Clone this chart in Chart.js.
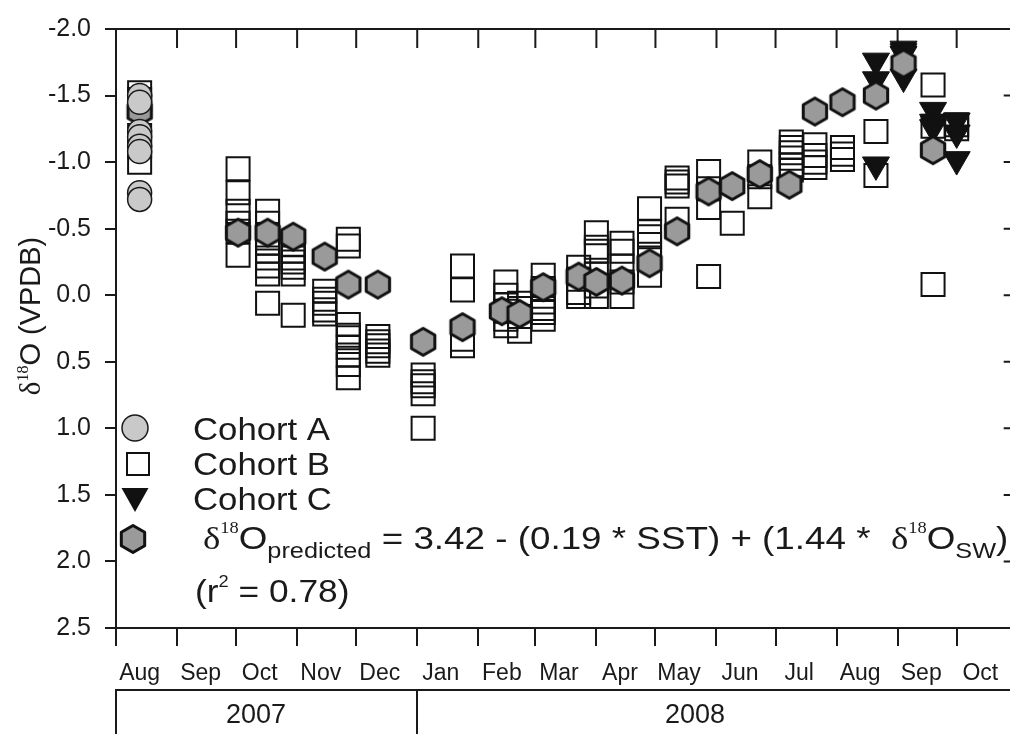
<!DOCTYPE html>
<html lang="en">
  <head>
    <meta charset="utf-8" />
    <title>δ18O cohorts 2007–2008</title>
    <script src="https://cdn.jsdelivr.net/npm/chart.js"></script>
    <style>
      html,
      body {
        margin: 0;
        padding: 0;
        background: #fff;
        overflow: hidden;
      }
      #d18oChart {
        position: absolute;
        left: 0;
        top: 0;
      }
    </style>
  </head>
  <body>
    <canvas id="d18oChart" width="1036" height="734"></canvas>
    <script>
      // x = days since 1 Aug 2007, y = δ18O (VPDB)
      const monthStarts = [0, 31, 61, 92, 122, 153, 184, 213, 244, 274, 305, 335, 366, 397, 427, 458];
      const monthLabels = ["Aug", "Sep", "Oct", "Nov", "Dec", "Jan", "Feb", "Mar", "Apr", "May", "Jun", "Jul", "Aug", "Sep", "Oct"];
      const yearLabels = ["2007", "2008"];
      const yearStarts = [0, 153];

      const cohortA = [
        [12, -1.5], [12, -1.45], [12, -1.23], [12, -1.19], [12, -1.12], [12, -1.08], [12, -0.77], [12, -0.72],
      ];

      const cohortB = [
        [12, -1.52], [12, -1.47], [12, -1.42], [12, -1.2], [12, -1.12], [12, -1.0],
        [62, -0.95], [62, -0.77], [62, -0.63], [62, -0.54], [62, -0.48], [62, -0.3],
        [77, -0.63], [77, -0.54], [77, -0.43], [77, -0.39], [77, -0.33], [77, -0.28], [77, -0.22], [77, -0.16], [77, 0.06],
        [90, -0.38], [90, -0.33], [90, -0.28], [90, -0.25], [90, -0.21], [90, -0.16], [90, 0.15],
        [106, -0.03], [106, 0.03], [106, 0.06], [106, 0.11], [106, 0.14],
        [118, -0.42], [118, -0.37], [118, 0.22], [118, 0.3], [118, 0.32], [118, 0.39], [118, 0.45], [118, 0.52], [118, 0.62],
        [133, 0.31], [133, 0.35], [133, 0.38], [133, 0.42], [133, 0.45],
        [156, 0.6], [156, 0.65], [156, 0.68], [156, 0.74], [156, 1.0],
        [176, -0.22], [176, -0.04], [176, 0.33], [176, 0.38],
        [198, -0.1], [198, 0.0], [198, 0.07], [198, 0.12], [198, 0.18], [198, 0.23],
        [205, 0.06], [205, 0.1], [205, 0.16], [205, 0.27],
        [217, -0.15], [217, -0.05], [217, 0.05], [217, 0.1], [217, 0.13], [217, 0.18],
        [235, -0.21], [235, -0.12], [235, -0.02], [235, 0.01],
        [244, -0.47], [244, -0.36], [244, -0.33], [244, -0.16], [244, -0.07], [244, 0.01],
        [257, -0.39], [257, -0.33], [257, -0.22], [257, -0.1], [257, 0.01],
        [271, -0.65], [271, -0.48], [271, -0.44], [271, -0.38], [271, -0.28], [271, -0.15],
        [285, -0.88], [285, -0.85], [285, -0.82], [285, -0.57],
        [301, -0.93], [301, -0.8], [301, -0.66], [301, -0.14],
        [313, -0.54],
        [327, -1.0], [327, -0.89], [327, -0.74],
        [343, -1.15], [343, -1.11], [343, -1.07], [343, -1.03], [343, -0.98], [343, -0.94],
        [355, -1.13], [355, -1.05], [355, -1.0], [355, -0.96],
        [369, -1.11], [369, -1.06], [369, -1.02],
        [386, -1.23], [386, -0.9],
        [415, -1.58], [415, -1.27], [415, -0.08],
        [427, -1.28], [427, -1.25],
      ];

      const cohortC = [
        [386, -1.76], [386, -1.62], [386, -0.98],
        [400, -1.85], [400, -1.83], [400, -1.81], [400, -1.64],
        [415, -1.39], [415, -1.3], [415, -1.26],
        [427, -1.31], [427, -1.22], [427, -1.02],
      ];

      const predicted = [
        [12, -1.38], [62, -0.47], [77, -0.47], [90, -0.44], [106, -0.29], [118, -0.08], [133, -0.08],
        [156, 0.35], [176, 0.24], [196, 0.12], [205, 0.14], [217, -0.06], [235, -0.14], [244, -0.1],
        [257, -0.11], [271, -0.24], [285, -0.48], [301, -0.78], [313, -0.82], [327, -0.91], [342, -0.83],
        [355, -1.38], [369, -1.45], [386, -1.5], [400, -1.74], [415, -1.09],
      ];

      const sans = '"Liberation Sans", Arial, sans-serif';
      const serif = '"Liberation Serif", "Times New Roman", serif';
      const ink = "#1a1a1a";

      const toXY = (arr) => arr.map((p) => ({ x: p[0], y: p[1] }));

      function hexPath(ctx, cx, cy, r) {
        ctx.beginPath();
        for (let k = 0; k < 6; k++) {
          const a = -Math.PI / 2 + (k * Math.PI) / 3;
          const px = cx + r * Math.cos(a);
          const py = cy + r * Math.sin(a);
          k === 0 ? ctx.moveTo(px, py) : ctx.lineTo(px, py);
        }
        ctx.closePath();
      }

      // hexagon marker used as pointStyle
      const hexImg = document.createElement("canvas");
      hexImg.width = 34;
      hexImg.height = 34;
      (function () {
        const c = hexImg.getContext("2d");
        hexPath(c, 17, 17, 13.5);
        c.fillStyle = "#9a9a9a";
        c.fill();
        c.lineWidth = 3;
        c.lineJoin = "round";
        c.strokeStyle = "#111";
        c.stroke();
      })();

      // draws a list of text runs, stretched horizontally by sx
      function drawRuns(ctx, runs, x, y, sx) {
        ctx.save();
        ctx.translate(x, y);
        ctx.scale(sx, 1);
        ctx.fillStyle = ink;
        ctx.textBaseline = "alphabetic";
        ctx.textAlign = "left";
        let cx = 0;
        runs.forEach((r) => {
          ctx.font = r.size + "px " + (r.serif ? serif : sans);
          ctx.fillText(r.t, cx, r.dy || 0);
          cx += ctx.measureText(r.t).width;
        });
        ctx.restore();
      }

      function runsWidth(ctx, runs) {
        let w = 0;
        runs.forEach((r) => {
          ctx.font = r.size + "px " + (r.serif ? serif : sans);
          w += ctx.measureText(r.t).width;
        });
        return w;
      }

      // inward tick marks on the top and right frame
      const innerTicks = {
        id: "innerTicks",
        beforeDatasetsDraw(chart) {
          const { ctx, chartArea, scales } = chart;
          ctx.save();
          ctx.strokeStyle = ink;
          ctx.lineWidth = 2;
          ctx.beginPath();
          monthStarts.forEach((v) => {
            const px = scales.x.getPixelForValue(v);
            ctx.moveTo(px, chartArea.top);
            ctx.lineTo(px, chartArea.top + 19);
          });
          scales.y.ticks.forEach((t) => {
            const py = scales.y.getPixelForValue(t.value);
            ctx.moveTo(chartArea.right - 14, py);
            ctx.lineTo(chartArea.right, py);
          });
          ctx.stroke();
          ctx.restore();
        },
      };

      const annotations = {
        id: "annotations",
        afterDraw(chart) {
          const { ctx, chartArea, scales } = chart;

          // y title
          const titleRuns = [
            { t: "δ", size: 29, serif: true },
            { t: "18", size: 16, serif: true, dy: -12 },
            { t: "O (VPDB)", size: 29 },
          ];
          const tw = runsWidth(ctx, titleRuns);
          ctx.save();
          ctx.translate(40, 316);
          ctx.rotate(-Math.PI / 2);
          drawRuns(ctx, titleRuns, -tw / 2, 0, 1);
          ctx.restore();

          // year row
          const rowTop = 690;
          ctx.save();
          ctx.strokeStyle = ink;
          ctx.lineWidth = 2;
          ctx.beginPath();
          ctx.moveTo(chartArea.left - 1, rowTop);
          ctx.lineTo(chart.width, rowTop);
          yearStarts.forEach((v) => {
            const px = Math.round(scales.x.getPixelForValue(v));
            ctx.moveTo(px, rowTop);
            ctx.lineTo(px, chart.height);
          });
          ctx.stroke();
          ctx.fillStyle = ink;
          ctx.font = "27px " + sans;
          ctx.textAlign = "center";
          ctx.textBaseline = "middle";
          const yearCenters = [256, 695];
          yearLabels.forEach((t, i) => ctx.fillText(t, yearCenters[i], 716));
          ctx.restore();

          // legend symbols
          ctx.save();
          ctx.beginPath();
          ctx.arc(135, 428, 13, 0, Math.PI * 2);
          ctx.fillStyle = "#c9c9c9";
          ctx.fill();
          ctx.lineWidth = 1.5;
          ctx.strokeStyle = ink;
          ctx.stroke();

          ctx.lineWidth = 2;
          ctx.strokeStyle = "#111";
          ctx.strokeRect(127, 453, 22, 22);

          ctx.beginPath();
          ctx.moveTo(121.5, 488);
          ctx.lineTo(148.5, 488);
          ctx.lineTo(135, 512);
          ctx.closePath();
          ctx.fillStyle = "#111";
          ctx.fill();

          ctx.drawImage(hexImg, 133 - 17, 539 - 17);
          ctx.restore();

          const sx = 1.12;
          drawRuns(ctx, [{ t: "Cohort A", size: 31 }], 193, 440, sx);
          drawRuns(ctx, [{ t: "Cohort B", size: 31 }], 193, 475, sx);
          drawRuns(ctx, [{ t: "Cohort C", size: 31 }], 193, 510, sx);

          drawRuns(
            ctx,
            [
              { t: "δ", size: 32, serif: true },
              { t: "18", size: 16, serif: true, dy: -16 },
              { t: "O", size: 32 },
              { t: "predicted", size: 22, dy: 9 },
              { t: " = 3.42 - (0.19 * SST) + (1.44 *  ", size: 32 },
              { t: "δ", size: 32, serif: true },
              { t: "18", size: 16, serif: true, dy: -16 },
              { t: "O", size: 32 },
              { t: "SW", size: 22, dy: 9 },
              { t: ")", size: 32 },
            ],
            203,
            549,
            1.15
          );

          drawRuns(
            ctx,
            [
              { t: "(r", size: 31 },
              { t: "2", size: 16, dy: -15 },
              { t: " = 0.78)", size: 31 },
            ],
            195,
            602,
            1.14
          );
        },
      };

      Chart.defaults.font.family = sans;
      Chart.defaults.color = ink;

      new Chart(document.getElementById("d18oChart"), {
        type: "scatter",
        data: {
          datasets: [
            {
              label: "Cohort A",
              data: toXY(cohortA),
              pointStyle: "circle",
              pointRadius: 12,
              backgroundColor: "#c9c9c9",
              borderColor: ink,
              borderWidth: 1.5,
            },
            {
              label: "δ18O predicted",
              data: toXY(predicted),
              pointStyle: hexImg,
              pointRadius: 14,
            },
            {
              label: "Cohort C",
              data: toXY(cohortC),
              pointStyle: "triangle",
              pointRotation: 180,
              pointRadius: 15.6,
              backgroundColor: "#111",
              borderColor: "#111",
              borderWidth: 1,
            },
            {
              label: "Cohort B",
              data: toXY(cohortB),
              pointStyle: "rect",
              pointRadius: 16.3,
              backgroundColor: "rgba(255,255,255,0)",
              borderColor: "#111",
              borderWidth: 2,
            },
          ],
        },
        options: {
          responsive: false,
          animation: false,
          events: [],
          layout: { padding: { top: 23, right: 3, left: 0, bottom: 0 } },
          plugins: { legend: { display: false }, tooltip: { enabled: false } },
          scales: {
            x: {
              type: "linear",
              position: "bottom",
              min: 0,
              max: 458,
              afterBuildTicks: (s) => {
                s.ticks = monthStarts.map((v) => ({ value: v }));
              },
              ticks: { display: false },
              grid: { drawOnChartArea: false, drawTicks: true, tickLength: 18, color: ink, lineWidth: 2 },
              border: { display: true, color: ink, width: 2 },
              afterFit: (s) => {
                s.height = 20;
              },
            },
            xm: {
              type: "linear",
              position: "bottom",
              min: 0,
              max: 458,
              afterBuildTicks: (s) => {
                s.ticks = monthStarts.slice(0, -1).map((v) => ({ value: v + 12 }));
              },
              ticks: {
                autoSkip: false,
                maxRotation: 0,
                padding: 12,
                color: ink,
                font: { size: 23 },
                callback: (v, i) => monthLabels[i],
              },
              grid: { display: false, drawTicks: false },
              border: { display: false },
              afterFit: (s) => {
                s.height = 86;
              },
            },
            xt: {
              type: "linear",
              position: "top",
              min: 0,
              max: 458,
              ticks: { display: false },
              grid: { display: false, drawTicks: false },
              border: { display: true, color: ink, width: 2 },
              afterFit: (s) => {
                s.height = 0;
              },
            },
            y: {
              position: "left",
              min: -2.0,
              max: 2.5,
              reverse: true,
              ticks: {
                stepSize: 0.5,
                padding: 14,
                color: ink,
                font: { size: 25 },
                callback: (v) => v.toFixed(1),
              },
              grid: { drawOnChartArea: false, tickLength: 11, color: ink, lineWidth: 2 },
              border: { display: true, color: ink, width: 2 },
              afterFit: (s) => {
                s.width = 116;
              },
            },
            yr: {
              position: "right",
              min: -2.0,
              max: 2.5,
              reverse: true,
              ticks: { display: false },
              grid: { display: false, drawTicks: false },
              border: { display: true, color: ink, width: 2 },
              afterFit: (s) => {
                s.width = 0;
              },
            },
          },
        },
        plugins: [innerTicks, annotations],
      });
    </script>
  </body>
</html>
